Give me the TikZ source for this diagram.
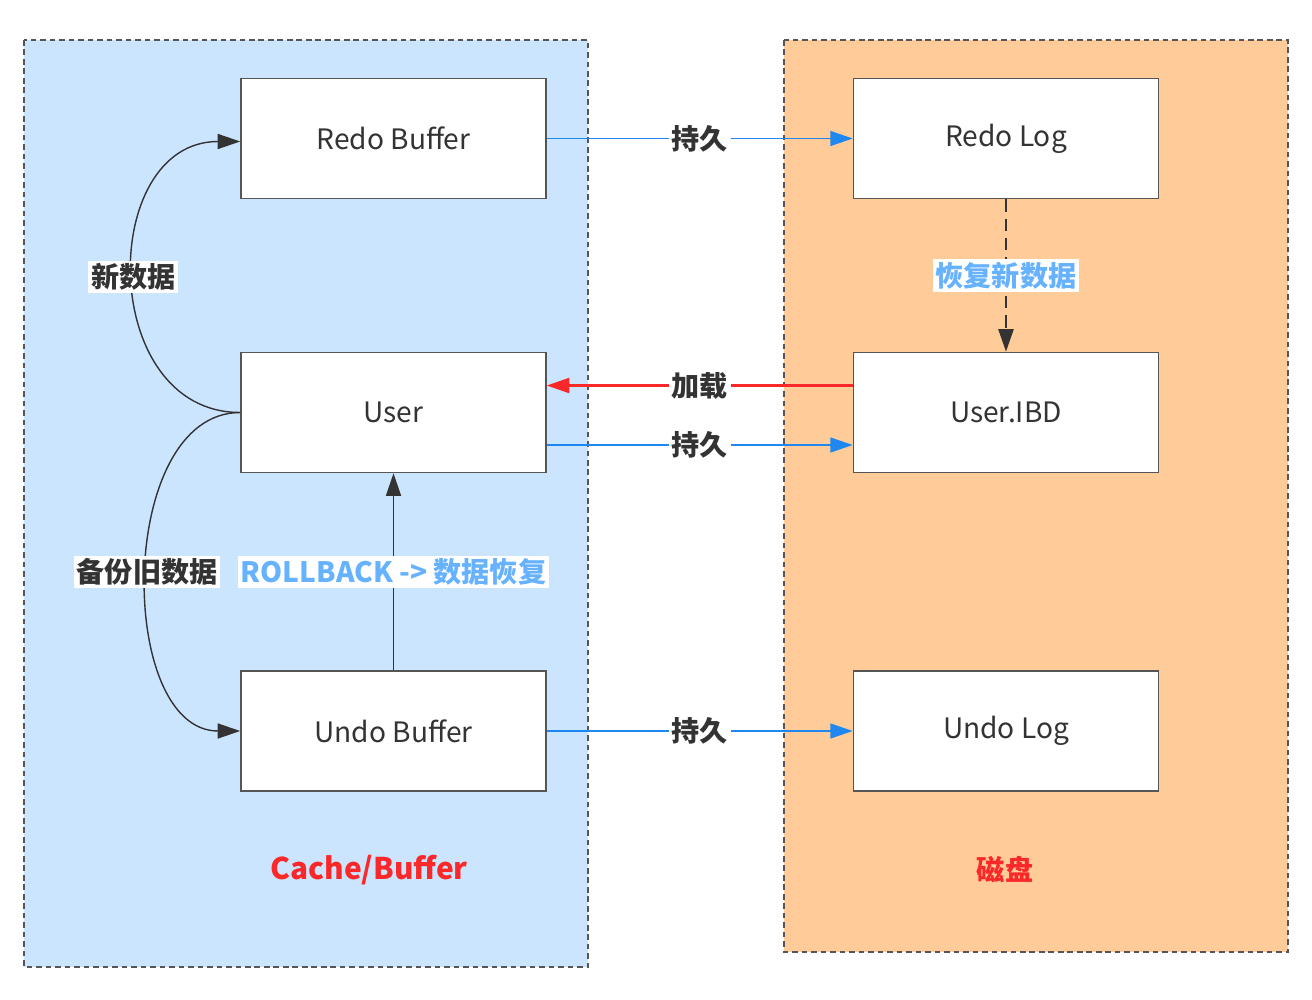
\documentclass[tikz,border=0pt]{standalone}
\usepackage{fontspec}
\setmainfont{Noto Sans CJK SC}
\usetikzlibrary{arrows.meta}
\usetikzlibrary{positioning}

\definecolor{zoneblue}{RGB}{204,229,255}
\definecolor{zoneorange}{RGB}{255,204,153}
\definecolor{flowblue}{RGB}{30,136,240}
\definecolor{flowred}{RGB}{250,40,40}
\definecolor{tagblue}{RGB}{102,178,255}
\definecolor{inkgray}{RGB}{51,51,51}
\definecolor{edgegray}{RGB}{85,85,85}

\begin{document}
\begin{tikzpicture}[x=0.02cm,y=-0.02cm,
  zone/.style={draw=edgegray,line width=1.1pt,dash pattern=on 3.2pt off 2.2pt},
  buf/.style={draw=edgegray,fill=white,line width=0.9pt,minimum width=6.1cm,minimum height=2.4cm,inner sep=0pt,text=inkgray,font=\fontsize{16}{18}\selectfont},
  tag/.style={fill=white,inner sep=1.5pt,font=\fontsize{16}{18}\selectfont\bfseries},
  tip/.style={-{Triangle[length=0.45cm,width=0.3cm]}},
  flow/.style={tip,color=flowblue,line width=0.9pt},
  loadflow/.style={tip,draw=flowred,fill=flowred,line width=1.2pt}]
\useasboundingbox (0,0) rectangle (1312,1000);
\fill[white] (0,0) rectangle (1312,1000);

% memory side and disk side
\draw[zone,fill=zoneblue] (24,40) rectangle (588,967);
\draw[zone,fill=zoneorange] (784,40) rectangle (1288,952);

\node[buf] (redobuf) at (393.5,138.5) {Redo Buffer};
\node[buf] (user) at (393.5,412.5) {User};
\node[buf] (undobuf) at (393.5,731) {Undo Buffer};
\node[buf] (redolog) at (1006,138.5) {Redo Log};
\node[buf] (ibd) at (1006,412.5) {User.IBD};
\node[buf] (undolog) at (1006,731) {Undo Log};

% persist
\draw[flow] (redobuf.east) -- node[tag,text=inkgray] (p1) {持久} (redolog.west);
\draw[flow] ([yshift=-0.65cm]user.east) -- node[tag,text=inkgray] (p2) {持久} ([yshift=-0.65cm]ibd.west);
\draw[flow] (undobuf.east) -- node[tag,text=inkgray] (p3) {持久} (undolog.west);
\draw[loadflow] ([yshift=0.54cm]ibd.west) -- node[tag,text=inkgray] (load) {加载} ([yshift=0.54cm]user.east);

% redo log back to data file
\draw[tip,color=inkgray,line width=1.3pt,dash pattern=on 7pt off 4pt] (redolog.south) -- node[tag,text=tagblue] (recover) {恢复新数据} (ibd.north);

% rollback
\draw[tip,color=inkgray,line width=0.8pt] (undobuf.north) -- node[tag,text=tagblue] (rollback) {ROLLBACK -> 数据恢复} (user.south);

% old and new values
\draw[tip,color=inkgray,line width=0.8pt] (user.west) to[out=180,in=180,looseness=1.35] node[tag,text=inkgray] (newdata) {新数据} ([yshift=-0.06cm]redobuf.west);
\draw[tip,color=inkgray,line width=0.8pt] (user.west) to[out=180,in=180,looseness=1.0] node[tag,text=inkgray] (olddata) {备份旧数据} (undobuf.west);

\node[text=flowred,font=\fontsize{17}{20}\selectfont\bfseries] (cache) at (369,870) {Cache/Buffer};
\node[text=flowred,font=\fontsize{16}{20}\selectfont\bfseries] (disk) at (1005,870) {磁盘};
\end{tikzpicture}
\end{document}
